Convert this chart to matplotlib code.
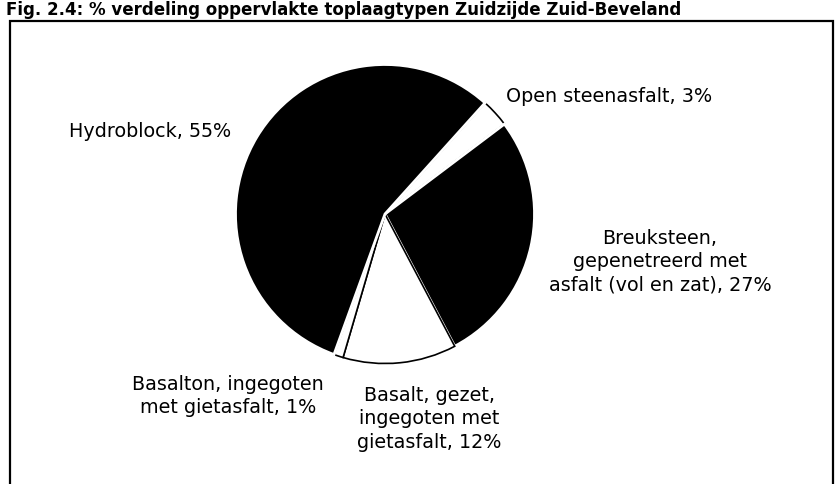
import matplotlib
matplotlib.use("Agg")
import matplotlib.pyplot as plt
from matplotlib.patches import Rectangle

plt.rcParams['font.family'] = ['DejaVu Sans']

title = "Fig. 2.4: % verdeling oppervlakte toplaagtypen Zuidzijde Zuid-Beveland"
categories = ["Open steenasfalt", "Breuksteen,\ngepenetreerd met\nasfalt (vol en zat)",
              "Basalt, gezet,\ningegoten met\ngietasfalt", "Basalton, ingegoten\nmet gietasfalt",
              "Hydroblock"]
values = [3, 27, 12, 1, 55]
colors = ["white", "black", "white", "white", "black"]

W, H = 836, 485
fig = plt.figure(figsize=(W / 100, H / 100), dpi=100)

# frame
fig.patches.append(Rectangle((10 / W, -0.05), (833 - 10) / W, (H - 22) / H + 0.05,
                             transform=fig.transFigure, fill=False,
                             edgecolor="black", linewidth=1.6))
fig.text(6 / W, 1 - 1 / H, title, ha="left", va="top", fontsize=12, fontweight="bold")

cx, cy, r = 385, 215, 151
ax = fig.add_axes([(cx - r) / W, 1 - (cy + r) / H, 2 * r / W, 2 * r / H])
wedges, _ = ax.pie(values, colors=colors, startangle=48, counterclock=False,
                   wedgeprops=dict(edgecolor="white", linewidth=2))
for w, c in zip(wedges, colors):
    if c == "white":
        w.set_edgecolor("black")
        w.set_linewidth(1.2)
ax.set_xlim(-1.01, 1.01)
ax.set_ylim(-1.01, 1.01)
ax.set_aspect("equal")
ax.axis("off")

def label(x, y, text, ha="center"):
    fig.text(x / W, 1 - y / H, text, ha=ha, va="center", fontsize=13.8, linespacing=1.3)

label(506, 97, f"{categories[0]}, {values[0]}%", ha="left")
label(660, 262, f"{categories[1]}, {values[1]}%")
label(429, 419, f"{categories[2]}, {values[2]}%")
label(228, 396, f"{categories[3]}, {values[3]}%")
label(150, 132, f"{categories[4]}, {values[4]}%")

fig.savefig("out.png", dpi=100)
